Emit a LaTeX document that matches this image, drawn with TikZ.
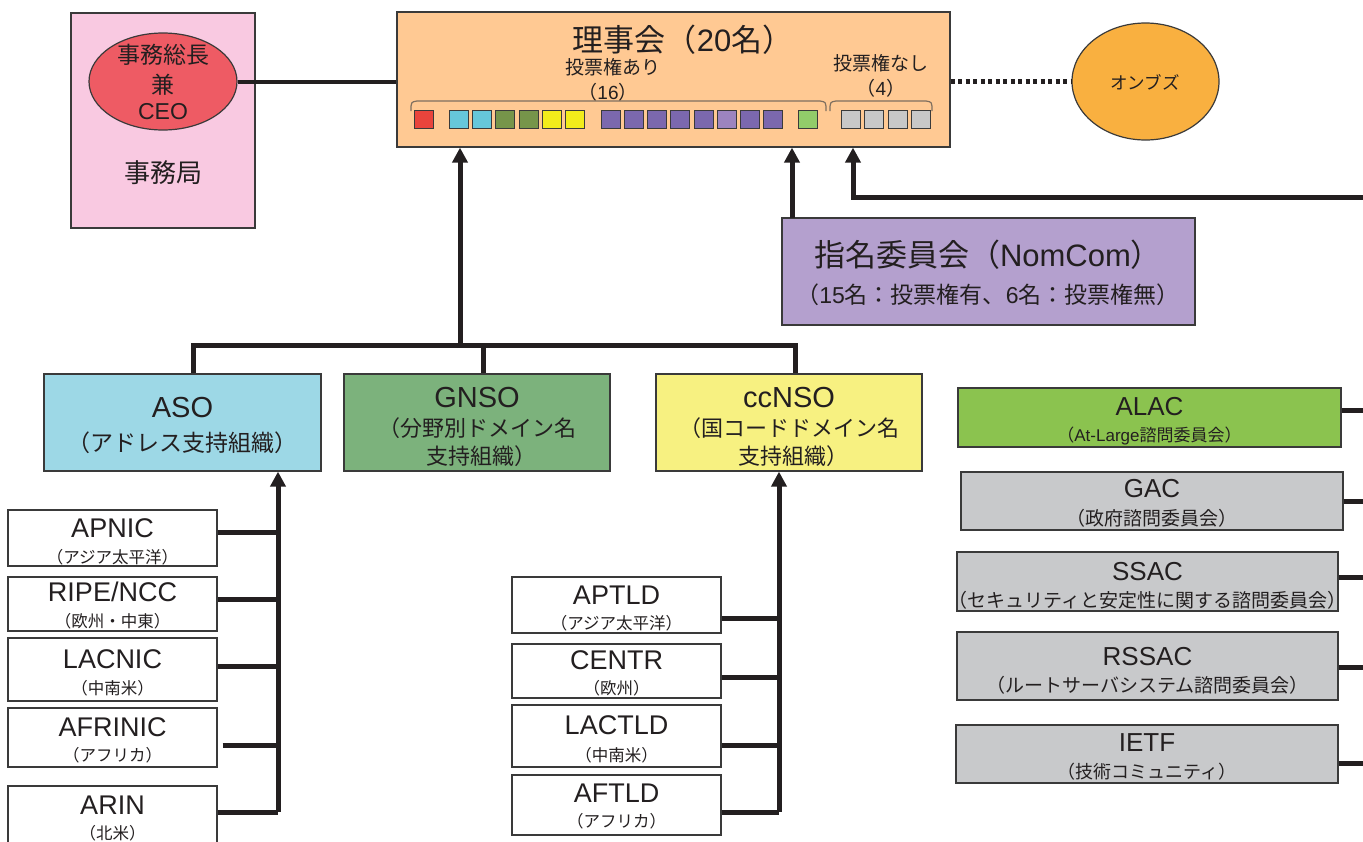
\documentclass[tikz,border=0pt]{standalone}
\usepackage{fontspec}
\setmainfont{Liberation Sans}
\newfontfamily\jp{Noto Sans CJK JP}
\usetikzlibrary{arrows.meta,shapes.geometric}
\definecolor{boxline}{HTML}{3A3A3A}
\definecolor{linec}{HTML}{231F20}
\definecolor{txtc}{HTML}{231F20}
\definecolor{cpink}{HTML}{F9C9E1}
\definecolor{cceo}{HTML}{EE5B64}
\definecolor{cboard}{HTML}{FFC993}
\definecolor{comb}{HTML}{F9B040}
\definecolor{cnom}{HTML}{B4A0CE}
\definecolor{caso}{HTML}{9DD8E6}
\definecolor{cgnso}{HTML}{7CB27C}
\definecolor{ccc}{HTML}{F7F181}
\definecolor{calac}{HTML}{8BC34F}
\definecolor{cgrey}{HTML}{C8C9CB}
\definecolor{sqred}{HTML}{E9443C}
\definecolor{sqcyan}{HTML}{66C7DA}
\definecolor{sqgreen}{HTML}{76954A}
\definecolor{sqyellow}{HTML}{F2EC1B}
\definecolor{sqpurple}{HTML}{7B68AE}
\definecolor{sqlpurple}{HTML}{9C84BF}
\definecolor{sqlgreen}{HTML}{92CC6A}
\definecolor{sqgrey}{HTML}{C8C8C8}
\definecolor{bracec}{HTML}{7F6F5F}
\newcommand{\fs}[1]{\fontsize{#1}{#1}\selectfont}
\begin{document}
\begin{tikzpicture}[x=1pt,y=-1pt,
  box/.style={draw=boxline, line width=1.2pt, inner sep=0pt, rectangle},
  lnk/.style={line width=5pt, draw=linec},
  arr/.style={lnk, -{Triangle[length=15pt,width=15pt]}},
  txt/.style={inner sep=0pt, text=txtc},
  sqb/.style={draw=boxline, line width=0.8pt, minimum width=19pt, minimum height=18pt, inner sep=0pt},
  ]
\useasboundingbox (0,0) rectangle (1363,841);

% Secretariat
\node[box, fill=cpink, minimum width=184pt, minimum height=215pt] (sec) at (163,120.5) {};
\node[box, ellipse, fill=cceo, minimum width=148pt, minimum height=97pt] (ceo) at (163,81.5) {};
\node[txt, font=\jp\fs{23}] (ceo1) at (163,55) {事務総長};
\node[txt, font=\jp\fs{23}] (ceo2) at (163,85) {兼};
\node[txt, font=\fs{23}] (ceo3) at (163,112) {CEO};
\node[txt, font=\jp\fs{26}] (sect) at (163,173) {事務局};

% Board
\node[box, fill=cboard, minimum width=553pt, minimum height=135pt] (board) at (673.5,79.5) {};
\node[txt, font=\fs{31}] (bt) at (683,40) {{\jp 理事会（}20{\jp 名）}};
\node[txt, font=\jp\fs{19}] (v1) at (613,67) {投票権あり};
\node[txt, font=\fs{19}] (v1n) at (608,92) {{\jp （}16{\jp ）}};
\node[txt, font=\jp\fs{19}] (v2) at (881,63) {投票権なし};
\node[txt, font=\fs{19}] (v2n) at (881,88) {{\jp （}4{\jp ）}};
\draw[bracec, line width=1.2pt] (411,111) .. controls (411,102) .. (417,101) -- (820,101) .. controls (826,102) .. (826,111);
\draw[bracec, line width=1.2pt] (830,111) .. controls (830,102) .. (836,101) -- (926,101) .. controls (932,102) .. (932,111);
\foreach \x/\c [count=\i] in {414/sqred,448.5/sqcyan,471.5/sqcyan,495/sqgreen,518.5/sqgreen,542/sqyellow,565/sqyellow,600.5/sqpurple,624/sqpurple,647/sqpurple,670/sqpurple,694/sqpurple,717/sqlpurple,740/sqpurple,763/sqpurple,798/sqlgreen,841/sqgrey,864/sqgrey,887.5/sqgrey,911/sqgrey}
  \node[sqb, fill=\c] (sq\i) at ({\x+10},119) {};

% Ombuds
\node[box, ellipse, fill=comb, minimum width=147pt, minimum height=117pt] (omb) at (1145.5,81.5) {};
\node[txt, font=\jp\fs{17.5}] (ombt) at (1145,82) {オンブズ};

% NomCom
\node[box, fill=cnom, minimum width=413pt, minimum height=107pt] (nom) at (988.5,271.5) {};
\node[txt, font=\fs{31}] (nomt) at (988,255) {{\jp 指名委員会（}NomCom{\jp ）}};
\node[txt, font=\fs{23}] (noms) at (988,295) {{\jp （}15{\jp 名：投票権有、}6{\jp 名：投票権無）}};

% SO boxes
\node[box, fill=caso, minimum width=277pt, minimum height=97pt] (aso) at (182.5,422.5) {};
\node[txt, font=\fs{29}] (asot) at (182.5,408) {ASO};
\node[txt, font=\jp\fs{23}] (asos) at (182.5,443) {（アドレス支持組織）};
\node[box, fill=cgnso, minimum width=266pt, minimum height=97pt] (gnso) at (477,422.5) {};
\node[txt, font=\fs{29}] (gnsot) at (477,398) {GNSO};
\node[txt, font=\jp\fs{22}] (gnsos1) at (477,428) {（分野別ドメイン名};
\node[txt, font=\jp\fs{22}] (gnsos2) at (481,456) {支持組織）};
\node[box, fill=ccc, minimum width=266pt, minimum height=97pt] (cc) at (789,422.5) {};
\node[txt, font=\fs{29}] (cct) at (789,398) {ccNSO};
\node[txt, font=\jp\fs{22}] (ccs1) at (789,428) {（国コードドメイン名};
\node[txt, font=\jp\fs{22}] (ccs2) at (793,456) {支持組織）};

% RIR boxes
\node[box, fill=white, minimum width=209pt, minimum height=56pt] (apnic) at (112.5,538) {};
\node[txt, font=\fs{27}] (apnict) at (112.5,528) {APNIC};
\node[txt, font=\jp\fs{16.5}] (apnics) at (112.5,557) {（アジア太平洋）};
\node[box, fill=white, minimum width=209pt, minimum height=54pt] (ripe) at (112.5,604) {};
\node[txt, font=\fs{27}] (ripet) at (112.5,592) {RIPE/NCC};
\node[txt, font=\jp\fs{16.5}] (ripes) at (112.5,621) {（欧州・中東）};
\node[box, fill=white, minimum width=209pt, minimum height=63pt] (lacnic) at (112.5,669.5) {};
\node[txt, font=\fs{27}] (lacnict) at (112.5,659) {LACNIC};
\node[txt, font=\jp\fs{16.5}] (lacnics) at (112.5,688) {（中南米）};
\node[box, fill=white, minimum width=209pt, minimum height=59pt] (afrinic) at (112.5,737.5) {};
\node[txt, font=\fs{27}] (afrinict) at (112.5,727) {AFRINIC};
\node[txt, font=\jp\fs{16.5}] (afrinics) at (112.5,755) {（アフリカ）};
\node[box, fill=white, minimum width=209pt, minimum height=70pt] (arin) at (112.5,821) {};
\node[txt, font=\fs{27}] (arint) at (112.5,805) {ARIN};
\node[txt, font=\jp\fs{16.5}] (arins) at (112.5,833) {（北米）};

% ccTLD regional boxes
\node[box, fill=white, minimum width=209pt, minimum height=56pt] (aptld) at (616.5,605) {};
\node[txt, font=\fs{27}] (aptldt) at (616.5,595) {APTLD};
\node[txt, font=\jp\fs{16.5}] (aptlds) at (616.5,623) {（アジア太平洋）};
\node[box, fill=white, minimum width=209pt, minimum height=54pt] (centr) at (616.5,671) {};
\node[txt, font=\fs{27}] (centrt) at (616.5,660) {CENTR};
\node[txt, font=\jp\fs{16.5}] (centrs) at (616.5,688) {（欧州）};
\node[box, fill=white, minimum width=209pt, minimum height=62pt] (lactld) at (616.5,736) {};
\node[txt, font=\fs{27}] (lactldt) at (616.5,725) {LACTLD};
\node[txt, font=\jp\fs{16.5}] (lactlds) at (616.5,755) {（中南米）};
\node[box, fill=white, minimum width=209pt, minimum height=60pt] (aftld) at (616.5,805) {};
\node[txt, font=\fs{27}] (aftldt) at (616.5,793) {AFTLD};
\node[txt, font=\jp\fs{16.5}] (aftlds) at (616.5,821) {（アフリカ）};

% Advisory committees
\node[box, fill=calac, minimum width=383pt, minimum height=59pt] (alac) at (1149.5,417.5) {};
\node[txt, font=\fs{26}] (alact) at (1149.5,407) {ALAC};
\node[txt, font=\fs{17}] (alacs) at (1149.5,436) {{\jp （}At-Large{\jp 諮問委員会）}};
\node[box, fill=cgrey, minimum width=382pt, minimum height=58pt] (gac) at (1152,501) {};
\node[txt, font=\fs{26}] (gact) at (1152,489) {GAC};
\node[txt, font=\jp\fs{19}] (gacs) at (1152,518) {（政府諮問委員会）};
\node[box, fill=cgrey, minimum width=381pt, minimum height=59pt] (ssac) at (1147.5,581.5) {};
\node[txt, font=\fs{26}] (ssact) at (1147.5,572) {SSAC};
\node[txt, font=\jp\fs{19}] (ssacs) at (1147.5,600) {（セキュリティと安定性に関する諮問委員会）};
\node[box, fill=cgrey, minimum width=381pt, minimum height=68pt] (rssac) at (1147.5,666) {};
\node[txt, font=\fs{26}] (rssact) at (1147.5,657) {RSSAC};
\node[txt, font=\jp\fs{19}] (rssacs) at (1147.5,685) {（ルートサーバシステム諮問委員会）};
\node[box, fill=cgrey, minimum width=382pt, minimum height=58pt] (ietf) at (1147,754) {};
\node[txt, font=\fs{26}] (ietft) at (1147,743) {IETF};
\node[txt, font=\jp\fs{18}] (ietfs) at (1147,772) {（技術コミュニティ）};

% coordinates
\coordinate (redge) at (1363,197);
\coordinate (ta) at (193,345);
\coordinate (tg) at (483,345);
\coordinate (tc) at (795,345);
\coordinate (tj) at (460,345);
\coordinate (rt) at (278,812);
\coordinate (ct) at (779,812);
\coordinate (nk) at (792,218);
\coordinate (bk) at (853,197);

% connectors
\draw[lnk, line width=4pt] (ceo.east) -- (ceo.east -| board.west);
\draw[lnk, dash pattern=on 4pt off 3.5pt] (omb.west -| board.east) -- (omb.west);
\draw[arr] (nk) -- (nk |- board.south);
\draw[arr] (redge) -- (bk) -- (bk |- board.south);
\draw[lnk, line join=miter] (ta |- aso.north) -- (ta) -- (tc) -- (tc |- cc.north);
\draw[lnk] (tg) -- (tg |- gnso.north);
\draw[arr] (tj) -- (tj |- board.south);

\draw[arr] (rt) -- (rt |- aso.south);
\draw[lnk] ([yshift=6pt]apnic.east) -- ([yshift=6pt]apnic.east -| rt);
\draw[lnk] ([yshift=5pt]ripe.east) -- ([yshift=5pt]ripe.east -| rt);
\draw[lnk] ([yshift=3.5pt]lacnic.east) -- ([yshift=3.5pt]lacnic.east -| rt);
\draw[lnk] ([xshift=5pt,yshift=-7.5pt]afrinic.east) -- ([yshift=-7.5pt]afrinic.east -| rt);
\draw[lnk] ([yshift=9pt]arin.east) -- ([yshift=9pt]arin.east -| rt);

\draw[arr] (ct) -- (ct |- cc.south);
\draw[lnk] ([yshift=-13pt]aptld.east) -- ([yshift=-13pt]aptld.east -| ct);
\draw[lnk] ([yshift=-6pt]centr.east) -- ([yshift=-6pt]centr.east -| ct);
\draw[lnk] ([yshift=-9pt]lactld.east) -- ([yshift=-9pt]lactld.east -| ct);
\draw[lnk] ([yshift=-7pt]aftld.east) -- ([yshift=-7pt]aftld.east -| ct);

\draw[lnk] ([yshift=7.5pt]alac.east) -- ([yshift=7.5pt]alac.east -| redge);
\draw[lnk] (gac.east) -- (gac.east -| redge);
\draw[lnk] ([yshift=4.5pt]ssac.east) -- ([yshift=4.5pt]ssac.east -| redge);
\draw[lnk] ([yshift=-1pt]rssac.east) -- ([yshift=-1pt]rssac.east -| redge);
\draw[lnk] ([yshift=-9pt]ietf.east) -- ([yshift=-9pt]ietf.east -| redge);
\end{tikzpicture}
\end{document}
